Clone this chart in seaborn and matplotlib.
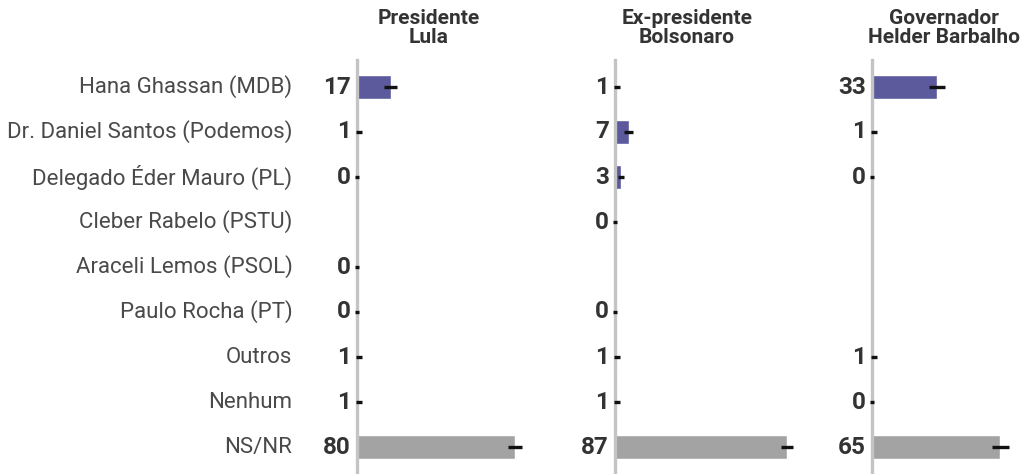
import matplotlib
matplotlib.use("Agg")
import matplotlib.pyplot as plt
import numpy as np
import pandas as pd
import seaborn as sns

# rows, top to bottom
categorias = [
    "Hana Ghassan (MDB)",
    "Dr. Daniel Santos (Podemos)",
    "Delegado Éder Mauro (PL)",
    "Cleber Rabelo (PSTU)",
    "Araceli Lemos (PSOL)",
    "Paulo Rocha (PT)",
    "Outros",
    "Nenhum",
    "NS/NR",
]

paineis = ["Presidente\nLula", "Ex-presidente\nBolsonaro", "Governador\nHelder Barbalho"]

# None = no answer shown in that panel
lula = [17, 1, 0, None, 0, 0, 1, 1, 80]
bolsonaro = [1, 7, 3, 0, None, 0, 1, 1, 87]
helder = [33, 1, 0, None, None, None, 1, 0, 65]

# margins of error read from the little black whiskers
erro_lula = [3.3, 1.5, 1.0, None, 1.0, 1.0, 1.5, 1.5, 3.6]
erro_bolsonaro = [1.5, 2.3, 1.6, 1.0, None, 1.0, 1.5, 1.5, 3.0]
erro_helder = [4.1, 1.5, 1.0, None, None, None, 1.5, 1.0, 4.2]

cores = {c: "#5c5a9c" for c in categorias}
cores["Nenhum"] = "#b08080"
cores["NS/NR"] = "#a3a3a3"

sns.set_style("white")
plt.rcParams["font.family"] = ["Roboto", "DejaVu Sans"]

W, H = 1021, 474
fig = plt.figure(figsize=(W / 100, H / 100), dpi=100)

lefts = [357, 615, 872]
ax_w = 148
top = 60

series = [(lula, erro_lula), (bolsonaro, erro_bolsonaro), (helder, erro_helder)]

for i, (vals, errs) in enumerate(series):
    ax = fig.add_axes([lefts[i] / W, 0, ax_w / W, (H - top) / H])
    df = pd.DataFrame({"cat": categorias, "val": vals, "err": errs})
    df["val"] = df["val"].astype(float)
    df["err"] = df["err"].astype(float)
    sns.barplot(data=df, y="cat", x="val", hue="cat", order=categorias,
                palette=cores, orient="h", width=0.52, legend=False,
                ax=ax, saturation=1)
    for p in ax.patches:
        p.set_clip_on(False)
    pos = np.arange(len(categorias))
    ok = df["val"].notna().values
    ax.errorbar(df["val"][ok], pos[ok], xerr=df["err"][ok], fmt="none",
                ecolor="#111111", elinewidth=2.4, capsize=0, clip_on=False,
                zorder=5)
    ax.set_xlim(0, 75)
    ax.set_ylim(8.6, -0.6)
    ax.set_xticks([])
    ax.set_yticks([])
    ax.set_xlabel("")
    ax.set_ylabel("")
    for s in ["top", "right", "bottom"]:
        ax.spines[s].set_visible(False)
    ax.spines["left"].set_color("#c4c4c4")
    ax.spines["left"].set_linewidth(2.4)
    ax.spines["left"].set_zorder(1)
    ax.patch.set_alpha(0)

    for y, v in zip(pos, df["val"]):
        if np.isnan(v):
            continue
        ax.annotate(f"{int(v)}", xy=(0, y), xytext=(-4.5, 0),
                    textcoords="offset points", ha="right", va="center",
                    fontsize=17.5, fontweight="bold", color="#333333")
    if i == 0:
        for y, c in zip(pos, categorias):
            ax.annotate(c, xy=(0, y), xytext=(-46.5, 0),
                        textcoords="offset points", ha="right", va="center",
                        fontsize=16, color="#4a4a4a")
    ax.text(36.5, -0.88, paineis[i], ha="center", va="bottom",
            fontsize=15, fontweight="bold", color="#333333",
            linespacing=1.0)

fig.savefig("out.png", dpi=100)
